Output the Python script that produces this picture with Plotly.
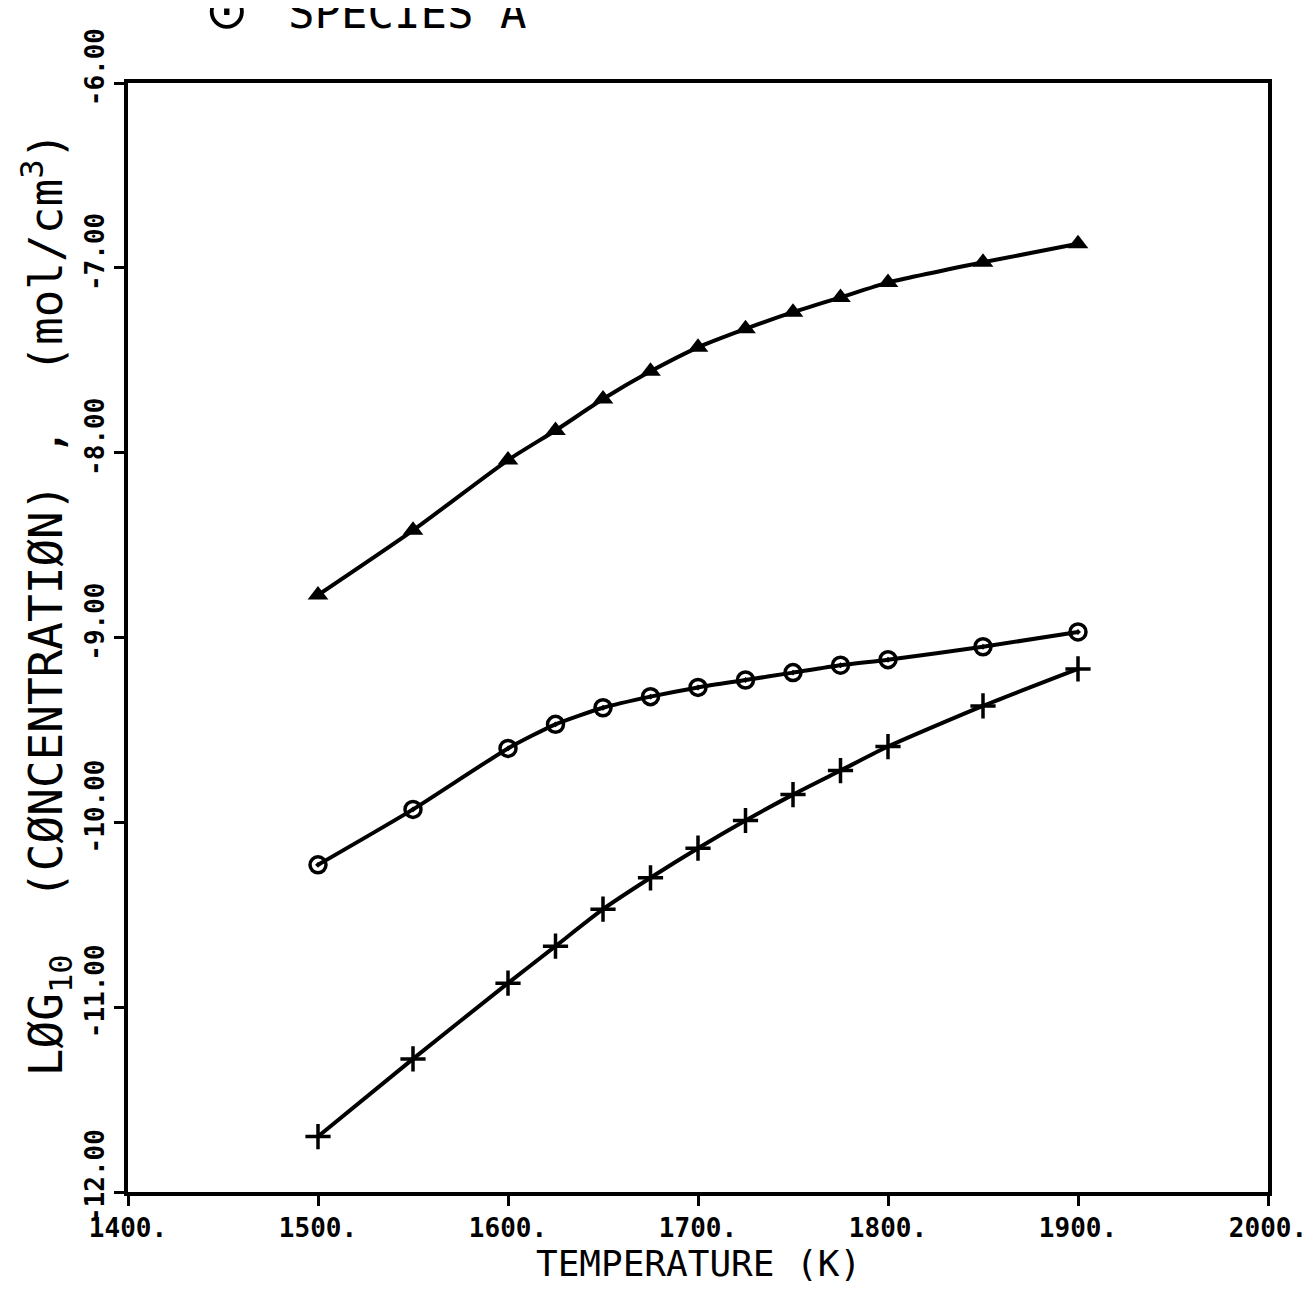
import plotly.graph_objects as go

temps = [1500, 1550, 1600, 1625, 1650, 1675, 1700, 1725, 1750, 1775, 1800, 1850, 1900]
triangle_series = [-8.77, -8.42, -8.04, -7.88, -7.71, -7.56, -7.43, -7.33, -7.24, -7.16, -7.08, -6.97, -6.87]
circle_series = [-10.23, -9.93, -9.60, -9.47, -9.38, -9.32, -9.27, -9.23, -9.19, -9.15, -9.12, -9.05, -8.97]
plus_series = [-11.70, -11.28, -10.87, -10.67, -10.47, -10.30, -10.14, -9.99, -9.85, -9.72, -9.59, -9.37, -9.17]

x_tickvals = [1400, 1500, 1600, 1700, 1800, 1900, 2000]
x_ticktext = ["1400.", "1500.", "1600.", "1700.", "1800.", "1900.", "2000."]
y_tickvals = [-6, -7, -8, -9, -10, -11, -12]
y_ticktext = ["-6.00", "-7.00", "-8.00", "-9.00", "-10.00", "-11.00", "-12.00"]

FONT = "DejaVu Sans Mono"

fig = go.Figure()
line_style = dict(color="black", width=4, shape="spline", smoothing=0.6)

fig.add_trace(go.Scatter(x=temps, y=triangle_series, mode="lines+markers",
                         line=line_style,
                         marker=dict(symbol="triangle-up", size=18, color="black"),
                         showlegend=False))
fig.add_trace(go.Scatter(x=temps, y=circle_series, mode="lines+markers",
                         line=line_style,
                         marker=dict(symbol="circle-open-dot", size=16, color="black",
                                     line=dict(width=3.5, color="black")),
                         showlegend=False))
fig.add_trace(go.Scatter(x=temps, y=plus_series, mode="lines+markers",
                         line=line_style,
                         marker=dict(symbol="cross-thin", size=18, color="black",
                                     line=dict(width=3.5, color="black")),
                         showlegend=False))

fig.update_layout(
    width=1310, height=1289,
    margin=dict(l=120, r=50, t=75, b=105),
    paper_bgcolor="white", plot_bgcolor="white",
    font=dict(family=FONT, color="black"),
)

fig.update_xaxes(
    range=[1400, 2000], tickvals=x_tickvals, ticktext=x_ticktext,
    showgrid=False, zeroline=False,
    showline=True, linecolor="black", linewidth=4, mirror=True,
    ticks="outside", ticklen=10, tickwidth=3, tickcolor="black",
    tickfont=dict(family=FONT, size=26, color="black", weight="bold"),
)
fig.update_yaxes(
    range=[-12, -6], tickvals=y_tickvals, ticktext=y_ticktext,
    showgrid=False, zeroline=False,
    showline=True, linecolor="black", linewidth=4, mirror=True,
    ticks="outside", ticklen=10, tickwidth=3, tickcolor="black",
    tickangle=-90, ticklabelshift=-12,
    tickfont=dict(family=FONT, size=26, color="black", weight="bold"),
)

fig.add_annotation(
    text="TEMPERATURE (K)",
    xref="paper", yref="paper", x=0.5, y=-0.085,
    xanchor="center", yanchor="bottom", showarrow=False,
    font=dict(family=FONT, size=36, color="black"),
)
fig.add_annotation(
    text="LØG<sub>10</sub>  (CØNCENTRATIØN) ,  (mol/cm<sup>3</sup>)",
    xref="paper", yref="paper", x=-0.072, y=0.53,
    xanchor="center", yanchor="middle", textangle=-90, showarrow=False,
    font=dict(family=FONT, size=46, color="black"),
)
fig.add_annotation(
    text="⊙",
    xref="paper", yref="paper", x=0.066, y=1.037,
    xanchor="left", yanchor="bottom", showarrow=False,
    font=dict(family="DejaVu Sans", size=52, color="black"),
)
fig.add_annotation(
    text="SPECIES A",
    xref="paper", yref="paper", x=0.139, y=1.039,
    xanchor="left", yanchor="bottom", showarrow=False,
    font=dict(family=FONT, size=44, color="black"),
)

fig.write_html("out.html")
